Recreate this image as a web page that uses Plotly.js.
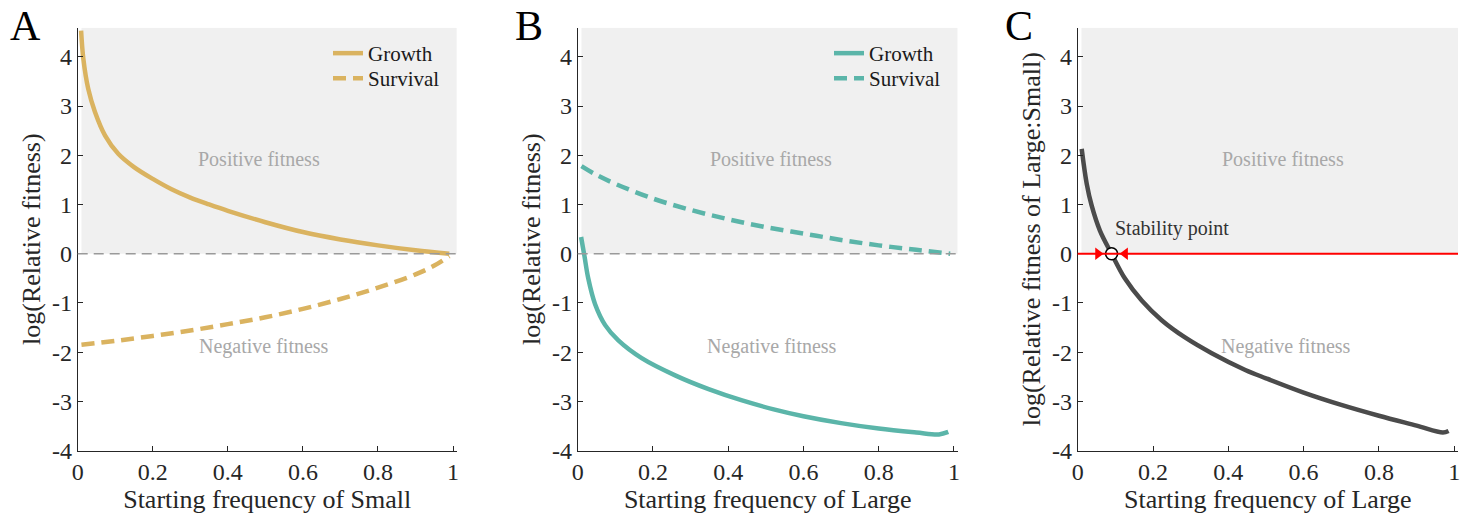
<!DOCTYPE html>
<html>
<head>
<meta charset="utf-8">
<script src="https://cdn.plot.ly/plotly-3.0.1.min.js"></script>
<style>html,body{margin:0;padding:0;background:#fff}#chart{width:1472px;height:520px}</style>
</head>
<body>
<div id="chart"></div>
<script>
// ---------- data ----------
const xTickVals = [0, 0.2, 0.4, 0.6, 0.8, 1];
const xTickText = ['0', '0.2', '0.4', '0.6', '0.8', '1'];
const yTickVals = [-4, -3, -2, -1, 0, 1, 2, 3, 4];
const yTickText = ['-4', '-3', '-2', '-1', '0', '1', '2', '3', '4'];

// Panel A: starting frequency of Small
const aGrowthX = [0.009, 0.015, 0.028, 0.046, 0.073, 0.108, 0.15, 0.2, 0.25, 0.3, 0.35, 0.4, 0.5, 0.6, 0.7, 0.8, 0.9, 0.99];
const aGrowthY = [4.53, 3.96, 3.35, 2.88, 2.40, 2.03, 1.76, 1.52, 1.31, 1.14, 1.0, 0.87, 0.64, 0.44, 0.29, 0.17, 0.07, 0.0];
const aSurvivalX = [0.01, 0.1, 0.2, 0.3, 0.4, 0.5, 0.6, 0.7, 0.8, 0.9, 0.95, 0.99];
const aSurvivalY = [-1.85, -1.77, -1.67, -1.56, -1.43, -1.29, -1.12, -0.92, -0.69, -0.42, -0.24, -0.05];

// Panel B: starting frequency of Large
const bGrowthX = [0.009, 0.018, 0.028, 0.046, 0.073, 0.108, 0.17, 0.259, 0.348, 0.437, 0.521, 0.6, 0.7, 0.8, 0.9, 0.96, 0.985];
const bGrowthY = [0.34, -0.05, -0.5, -1.02, -1.45, -1.76, -2.12, -2.47, -2.75, -2.98, -3.16, -3.30, -3.44, -3.55, -3.63, -3.67, -3.62];
const bSurvivalX = [0.01, 0.05, 0.1, 0.2, 0.3, 0.4, 0.5, 0.6, 0.7, 0.8, 0.9, 0.99];
const bSurvivalY = [1.78, 1.6, 1.42, 1.12, 0.89, 0.70, 0.54, 0.41, 0.28, 0.17, 0.08, 0.0];

// Panel C: relative fitness of Large:Small
const cX = [0.0106, 0.024, 0.037, 0.059, 0.09, 0.126, 0.17, 0.223, 0.285, 0.356, 0.445, 0.5, 0.6, 0.7, 0.8, 0.9, 0.97, 0.985];
const cY = [2.13, 1.42, 0.98, 0.47, 0.0, -0.51, -0.95, -1.35, -1.70, -2.02, -2.36, -2.53, -2.82, -3.07, -3.29, -3.49, -3.63, -3.60];
const stabilityX = [0.09];
const stabilityY = [0];
const arrowRightX = [0.054];
const arrowLeftX = [0.126];
const arrowY = [0];

// ---------- styles ----------
const FONT = 'Liberation Serif';
const AXC = '#262626';
const GOLD = '#DAB360';
const TEAL = '#5BB5A9';
const DARK = '#4B4B4B';
const YMAX = 4.59;
const XMAX = 1.01;

function xaxis(domain, title, anchor) {
  return {
    domain: domain, range: [0, XMAX], anchor: anchor,
    showline: true, linecolor: AXC, linewidth: 1, mirror: false,
    showgrid: false, zeroline: false,
    ticks: 'inside', ticklen: 5, tickwidth: 1, tickcolor: AXC,
    tickmode: 'array', tickvals: xTickVals, ticktext: xTickText,
    tickfont: {family: FONT, size: 24, color: AXC},
    title: {text: title, font: {family: FONT, size: 26, color: AXC}, standoff: 4},
    fixedrange: true
  };
}
function yaxis(title, anchor) {
  return {
    domain: [0.1333, 0.9467], range: [-4, YMAX], anchor: anchor,
    showline: true, linecolor: AXC, linewidth: 1, mirror: false,
    showgrid: false, zeroline: false,
    ticks: 'inside', ticklen: 5, tickwidth: 1, tickcolor: AXC,
    tickmode: 'array', tickvals: yTickVals, ticktext: yTickText,
    tickfont: {family: FONT, size: 24, color: AXC},
    title: {text: title, font: {family: FONT, size: 26, color: AXC}, standoff: 3},
    fixedrange: true
  };
}

const lineStyle = (c, dash) => ({color: c, width: 4.5, dash: dash || 'solid', shape: 'spline', smoothing: 1});

const traces = [
  {x: aGrowthX, y: aGrowthY, xaxis: 'x', yaxis: 'y', mode: 'lines', name: 'Growth', legend: 'legend',
   line: lineStyle(GOLD)},
  {x: aSurvivalX, y: aSurvivalY, xaxis: 'x', yaxis: 'y', mode: 'lines', name: 'Survival', legend: 'legend3',
   line: lineStyle(GOLD, '13px,7px')},
  {x: bGrowthX, y: bGrowthY, xaxis: 'x2', yaxis: 'y2', mode: 'lines', name: 'Growth', legend: 'legend2',
   line: lineStyle(TEAL)},
  {x: bSurvivalX, y: bSurvivalY, xaxis: 'x2', yaxis: 'y2', mode: 'lines', name: 'Survival', legend: 'legend4',
   line: lineStyle(TEAL, '13px,7px')},
  {x: cX, y: cY, xaxis: 'x3', yaxis: 'y3', mode: 'lines', showlegend: false,
   line: lineStyle(DARK)},
  {x: arrowRightX, y: arrowY, xaxis: 'x3', yaxis: 'y3', mode: 'markers', showlegend: false,
   marker: {symbol: 'triangle-right', size: 11, color: '#ff0000', line: {width: 0}}},
  {x: arrowLeftX, y: arrowY, xaxis: 'x3', yaxis: 'y3', mode: 'markers', showlegend: false,
   marker: {symbol: 'triangle-left', size: 11, color: '#ff0000', line: {width: 0}}},
  {x: stabilityX, y: stabilityY, xaxis: 'x3', yaxis: 'y3', mode: 'markers', showlegend: false,
   marker: {symbol: 'circle', size: 12, color: '#ffffff', line: {color: '#000000', width: 1.6}}}
];

function shade(xr, yr) {
  return {type: 'rect', xref: xr, yref: yr, x0: 0.01, x1: XMAX, y0: 0, y1: YMAX,
          fillcolor: '#f0f0f0', line: {width: 0}, layer: 'below'};
}
function zeroLine(xr, yr, color, dash, width) {
  return {type: 'line', xref: xr + ' domain', yref: yr, x0: 0, x1: 1, y0: 0, y1: 0,
          line: {color: color, dash: dash, width: width}, layer: 'above'};
}

const grayText = {family: FONT, size: 20, color: '#a8a8a8'};
function note(xr, yr, x, y, text, font, xanchor) {
  return {xref: xr, yref: yr, x: x, y: y, text: text, showarrow: false, font: font,
          xanchor: xanchor || 'center', yanchor: 'middle'};
}
function letter(px, text) {
  return {xref: 'paper', yref: 'paper', x: px / 1472, y: 1 - 26 / 520, text: text, showarrow: false,
          xanchor: 'left', yanchor: 'middle', font: {family: FONT, size: 42, color: '#000'}};
}

const legendStyle = (px, py) => ({x: px / 1472, y: 1 - py / 520, xanchor: 'left', yanchor: 'top',
  bgcolor: 'rgba(0,0,0,0)', borderwidth: 0, font: {family: FONT, size: 21, color: '#1a1a1a'},
  tracegroupgap: 0});

const layout = {
  width: 1472, height: 520,
  margin: {l: 0, r: 0, t: 0, b: 0},
  paper_bgcolor: '#ffffff', plot_bgcolor: '#ffffff',
  font: {family: FONT, color: AXC},
  xaxis: xaxis([0.05279, 0.31033], 'Starting frequency of Small', 'y'),
  yaxis: yaxis('log(Relative fitness)', 'x'),
  xaxis2: xaxis([0.39246, 0.65061], 'Starting frequency of Large', 'y2'),
  yaxis2: yaxis('log(Relative fitness)', 'x2'),
  xaxis3: xaxis([0.73213, 0.99049], 'Starting frequency of Large', 'y3'),
  yaxis3: yaxis('log(Relative fitness of Large:Small)', 'x3'),
  legend: legendStyle(328, 33),
  legend3: legendStyle(328, 58),
  legend2: legendStyle(829, 33),
  legend4: legendStyle(829, 58),
  shapes: [
    shade('x', 'y'), shade('x2', 'y2'), shade('x3', 'y3'),
    zeroLine('x', 'y', '#9a9a9a', '10px,6px', 1.5),
    zeroLine('x2', 'y2', '#9a9a9a', '10px,6px', 1.5),
    zeroLine('x3', 'y3', '#ff0000', 'solid', 2)
  ],
  annotations: [
    note('x', 'y', 0.483, 1.93, 'Positive fitness', grayText),
    note('x', 'y', 0.495, -1.88, 'Negative fitness', grayText),
    note('x2', 'y2', 0.514, 1.93, 'Positive fitness', grayText),
    note('x2', 'y2', 0.517, -1.88, 'Negative fitness', grayText),
    note('x3', 'y3', 0.545, 1.93, 'Positive fitness', grayText),
    note('x3', 'y3', 0.5545, -1.88, 'Negative fitness', grayText),
    note('x3', 'y3', 0.0946, 0.51, 'Stability point', {family: FONT, size: 20, color: '#333333'}, 'left'),
    letter(8, 'A'), letter(513, 'B'), letter(1003, 'C')
  ]
};

Plotly.newPlot('chart', traces, layout, {staticPlot: true, displayModeBar: false});
</script>
</body>
</html>
